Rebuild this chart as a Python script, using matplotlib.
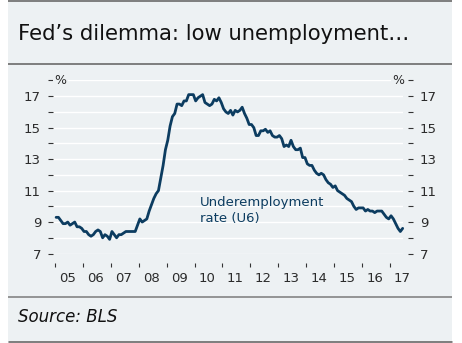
import matplotlib
matplotlib.use("Agg")
import matplotlib.pyplot as plt
from matplotlib.lines import Line2D
from matplotlib.patches import Rectangle
from matplotlib.ticker import FixedLocator, NullFormatter, FixedFormatter
import numpy as np

# U6 underemployment rate, monthly, Jan 2005 - Jun 2017 (%)
years = list(range(2005, 2018))
u6_2005 = [9.3, 9.3, 9.1, 8.9, 8.9, 9.0, 8.8, 8.9, 9.0, 8.7, 8.7, 8.6]
u6_2006 = [8.4, 8.4, 8.2, 8.1, 8.2, 8.4, 8.5, 8.4, 8.0, 8.2, 8.1, 7.9]
u6_2007 = [8.4, 8.2, 8.0, 8.2, 8.2, 8.3, 8.4, 8.4, 8.4, 8.4, 8.4, 8.8]
u6_2008 = [9.2, 9.0, 9.1, 9.2, 9.7, 10.1, 10.5, 10.8, 11.0, 11.8, 12.6, 13.6]
u6_2009 = [14.2, 15.1, 15.7, 15.9, 16.5, 16.5, 16.4, 16.7, 16.7, 17.1, 17.1, 17.1]
u6_2010 = [16.7, 16.9, 17.0, 17.1, 16.6, 16.5, 16.4, 16.5, 16.8, 16.7, 16.9, 16.6]
u6_2011 = [16.2, 16.0, 15.9, 16.1, 15.8, 16.1, 16.0, 16.1, 16.3, 15.9, 15.6, 15.2]
u6_2012 = [15.2, 15.0, 14.5, 14.5, 14.8, 14.8, 14.9, 14.7, 14.8, 14.5, 14.4, 14.4]
u6_2013 = [14.5, 14.3, 13.8, 13.9, 13.8, 14.2, 13.8, 13.6, 13.6, 13.7, 13.1, 13.1]
u6_2014 = [12.7, 12.6, 12.6, 12.3, 12.1, 12.0, 12.1, 12.0, 11.7, 11.5, 11.4, 11.2]
u6_2015 = [11.3, 11.0, 10.9, 10.8, 10.7, 10.5, 10.4, 10.3, 10.0, 9.8, 9.9, 9.9]
u6_2016 = [9.9, 9.7, 9.8, 9.7, 9.7, 9.6, 9.7, 9.7, 9.7, 9.5, 9.3, 9.2]
u6_2017 = [9.4, 9.2, 8.9, 8.6, 8.4, 8.6]

yearly = [u6_2005, u6_2006, u6_2007, u6_2008, u6_2009, u6_2010, u6_2011,
          u6_2012, u6_2013, u6_2014, u6_2015, u6_2016, u6_2017]
x_labels = ["05", "06", "07", "08", "09", "10", "11", "12", "13", "14", "15", "16", "17"]
y_major = [7, 9, 11, 13, 15, 17]
y_minor = [8, 10, 12, 14, 16, 18]

title = "Fed\u2019s dilemma: low unemployment\u2026"
source = "Source: BLS"
series_label = ["Underemployment", "rate (U6)"]

xs, ys = [], []
for yr, vals in zip(years, yearly):
    for m, v in enumerate(vals):
        xs.append(yr + (m + 0.5) / 12)
        ys.append(v)

W, H = 462, 343
BG = "#edf1f3"
NAVY = "#0c3c60"
GRAY = "#808080"
TXT = "#2b2b2b"

fig = plt.figure(figsize=(W / 100, H / 100), dpi=100, facecolor="white")

def fx(px):
    return px / W

def fy(py):
    return 1 - py / H

fig.patches.append(Rectangle((fx(8), 0), fx(452) - fx(8), 1, transform=fig.transFigure,
                             facecolor=BG, edgecolor="none", zorder=-10))
for py, lw in [(1, 2.0), (63.5, 2.0), (297, 1.6), (341.5, 3.0)]:
    fig.add_artist(Line2D([fx(8), fx(452)], [fy(py), fy(py)], transform=fig.transFigure,
                          color=GRAY, lw=lw * 0.72, solid_capstyle="butt"))

fig.text(fx(18), fy(40.5), title, fontsize=15.2, color="#111111", va="baseline", ha="left")
fig.text(fx(18), fy(321.5), source, fontsize=12, style="italic", color="#111111",
         va="baseline", ha="left")

ax = fig.add_axes([fx(53), fy(254), fx(403) - fx(53), fy(80) - fy(254)])
ax.set_facecolor(BG)
ax.set_xlim(2004.93, 2017.47)
ax.set_ylim(6.97, 18.03)

ax.plot(xs, ys, color=NAVY, lw=2.0, solid_capstyle="round", solid_joinstyle="round",
        clip_on=False, zorder=5)

for s in ax.spines.values():
    s.set_visible(False)
ax.spines["bottom"].set_position(("outward", 6.5))
ax.spines["right"].set_position(("outward", 3.6))

# y axis
ax.yaxis.set_major_locator(FixedLocator(y_major))
ax.yaxis.set_minor_locator(FixedLocator(y_minor))
ax.yaxis.set_minor_formatter(NullFormatter())
ax.tick_params(axis="y", which="both", left=True, right=True, labelleft=True, labelright=True,
               direction="out", length=3.6, width=0.8, color="#333333")
ax.tick_params(axis="y", which="major", labelsize=9.5, labelcolor=TXT, pad=5)
ax.grid(True, axis="y", which="both", color="white", lw=1.0)

# x axis
ax.xaxis.set_major_locator(FixedLocator(years))
ax.xaxis.set_major_formatter(NullFormatter())
ax.xaxis.set_minor_locator(FixedLocator([y + 0.45 for y in years]))
ax.xaxis.set_minor_formatter(FixedFormatter(x_labels))
ax.tick_params(axis="x", which="major", direction="out", length=2.9, width=0.8, color="#333333")
ax.tick_params(axis="x", which="minor", length=0, pad=6.5, labelsize=9.5, labelcolor=TXT)

# % markers at top gridline
bb = dict(facecolor=BG, edgecolor="none", pad=1.0)
ax.text(0.004, 18, "%", transform=ax.get_yaxis_transform(), ha="left", va="center",
        fontsize=9, color=TXT, bbox=bb, zorder=3)
ax.text(1.005, 18, "%", transform=ax.get_yaxis_transform(), ha="right", va="center",
        fontsize=9, color=TXT, bbox=bb, zorder=3, clip_on=False)

ax.text(2010.2, 10.04, series_label[0], color=NAVY, fontsize=9.5, va="baseline", ha="left")
ax.text(2010.2, 8.98, series_label[1], color=NAVY, fontsize=9.5, va="baseline", ha="left")

fig.savefig("out.png", dpi=100, facecolor="white")
